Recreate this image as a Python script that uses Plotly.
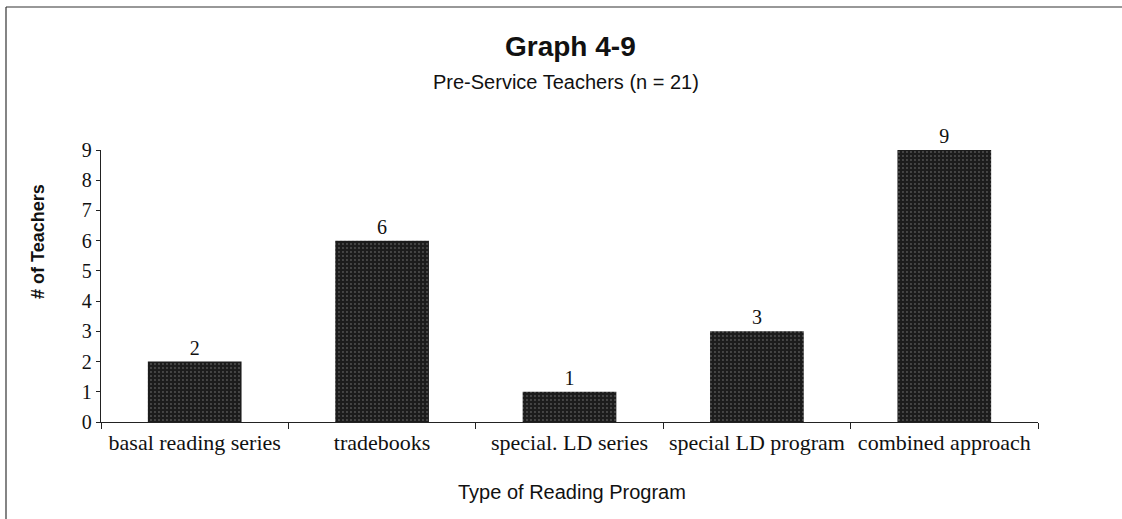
import plotly.graph_objects as go

categories = ["basal reading series", "tradebooks", "special. LD series",
              "special LD program", "combined approach"]
teachers = [2, 6, 1, 3, 9]
y_ticks = list(range(0, 10))

W, H = 1122, 519
L, R, T, B = 101, 84, 150, 97
pw, ph = W - L - R, H - T - B

def px(x):
    return (x - L) / pw

def py(y):
    return (H - B - y) / ph

fig = go.Figure()
fig.add_trace(go.Bar(
    x=categories, y=teachers,
    text=[str(v) for v in teachers], textposition="outside",
    textfont=dict(family="Liberation Serif", size=20, color="#111"),
    marker=dict(color="#1e1e1e", line=dict(width=0),
                pattern=dict(shape=".", fgcolor="#8a8a8a", bgcolor="#1c1c1c",
                             size=4, solidity=0.18)),
    cliponaxis=False,
))

fig.update_layout(
    width=W, height=H,
    margin=dict(l=L, r=R, t=T, b=B),
    paper_bgcolor="white", plot_bgcolor="white",
    bargap=0.5, showlegend=False,
    xaxis=dict(
        type="category", tickson="boundaries", ticks="outside", ticklen=6,
        tickcolor="#222", showline=True, linecolor="#222", linewidth=1.3,
        showgrid=False, tickfont=dict(family="Liberation Serif", size=22, color="#111"),
        range=[-0.5, 4.5],
    ),
    yaxis=dict(
        range=[0, 9], tickvals=y_ticks, ticks="outside", ticklen=4,
        tickcolor="#222", showline=True, linecolor="#222", linewidth=1.3,
        showgrid=False, zeroline=False,
        tickfont=dict(family="Liberation Serif", size=20, color="#111"),
    ),
    font=dict(family="Liberation Sans", color="#111"),
)

fig.add_annotation(text="<b>Graph 4-9</b>", x=px(570), y=py(46), xref="paper", yref="paper",
                   showarrow=False, font=dict(family="Liberation Sans", size=28, color="#111"),
                   xanchor="center", yanchor="middle")
fig.add_annotation(text="Pre-Service Teachers (n = 21)", x=px(566), y=py(82), xref="paper",
                   yref="paper", showarrow=False,
                   font=dict(family="Liberation Sans", size=20, color="#111"),
                   xanchor="center", yanchor="middle")
fig.add_annotation(text="<b># of Teachers</b>", x=px(38), y=py(242), xref="paper", yref="paper",
                   showarrow=False, textangle=-90,
                   font=dict(family="Liberation Sans", size=18, color="#111"),
                   xanchor="center", yanchor="middle")
fig.add_annotation(text="Type of Reading Program", x=px(572), y=py(492), xref="paper",
                   yref="paper", showarrow=False,
                   font=dict(family="Liberation Sans", size=20, color="#111"),
                   xanchor="center", yanchor="middle")

# outer frame (left and top edges)
fig.add_shape(type="line", xref="paper", yref="paper", x0=px(6), x1=px(6), y0=py(7), y1=py(520),
              line=dict(color="#333", width=1.2))
fig.add_shape(type="line", xref="paper", yref="paper", x0=px(6), x1=px(1123), y0=py(7), y1=py(7),
              line=dict(color="#333", width=1.2))

fig.write_html("out.html", config={"displayModeBar": False},
               post_script="document.body.style.margin='0';document.body.style.overflow='hidden';")
